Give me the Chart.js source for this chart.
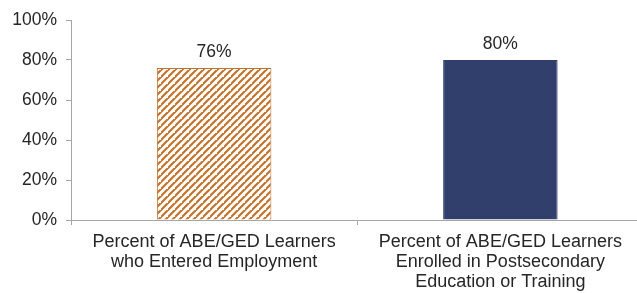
<!DOCTYPE html>
<html>
<head>
<meta charset="utf-8">
<script src="https://cdn.jsdelivr.net/npm/chart.js@4.4.1/dist/chart.umd.min.js"></script>
<style>
  html, body { margin: 0; padding: 0; background: #ffffff; overflow: hidden; }
  #wrap { width: 645px; height: 293px; }
</style>
</head>
<body>
<div id="wrap"><canvas id="c" width="645" height="293"></canvas></div>
<script>
const categories = [
  ["Percent of ABE/GED Learners", "who Entered Employment"],
  ["Percent of ABE/GED Learners", "Enrolled in Postsecondary", "Education or Training"]
];
const values = [76, 80];
const valueLabels = ["76%", "80%"];
const yTicks = [0, 20, 40, 60, 80, 100];

const FONT = "'Liberation Sans', Arial, sans-serif";
const TEXT = '#262626';
const AXIS = '#a6a6a6';
const ORANGE = '#c0722e';
const NAVY = '#313f6d';

function makeHatch() {
  const s = 7;
  const c = document.createElement('canvas');
  c.width = s; c.height = s;
  const g = c.getContext('2d');
  g.fillStyle = '#fffdf8';
  g.fillRect(0, 0, s, s);
  g.strokeStyle = ORANGE;
  g.lineWidth = 2.1;
  g.beginPath();
  g.moveTo(-1, s + 1); g.lineTo(s + 1, -1);
  g.moveTo(-1 - s, s + 1); g.lineTo(1, -1);
  g.moveTo(s - 1, 2 * s + 1); g.lineTo(2 * s + 1, s - 1);
  g.stroke();
  return g.createPattern(c, 'repeat');
}

const ctx = document.getElementById('c').getContext('2d');
const hatch = makeHatch();

const valueLabelPlugin = {
  id: 'valueLabels',
  afterDatasetsDraw(chart) {
    const g = chart.ctx;
    const meta = chart.getDatasetMeta(0);
    g.save();
    g.font = '17.5px ' + FONT;
    g.fillStyle = TEXT;
    g.textAlign = 'center';
    g.textBaseline = 'alphabetic';
    meta.data.forEach((bar, i) => {
      g.fillText(valueLabels[i], bar.x, bar.y - 11);
    });
    g.restore();
  }
};

new Chart(ctx, {
  type: 'bar',
  data: {
    labels: categories,
    datasets: [{
      data: values,
      backgroundColor: [hatch, NAVY],
      borderColor: [ORANGE, NAVY],
      borderWidth: 1,
      barPercentage: 0.4,
      categoryPercentage: 1.0
    }]
  },
  options: {
    responsive: false,
    devicePixelRatio: 1,
    animation: false,
    layout: { padding: { left: 0, right: 1.5, top: 20, bottom: 0 } },
    plugins: { legend: { display: false }, tooltip: { enabled: false } },
    scales: {
      x: {
        afterFit(scale) { scale.height = 73; },
        grid: { offset: true, drawOnChartArea: false, drawTicks: true, tickLength: 5, color: AXIS },
        border: { display: true, color: AXIS, width: 1 },
        ticks: {
          font: { family: FONT, size: 18, lineHeight: 1.12 },
          color: TEXT,
          padding: 7,
          maxRotation: 0,
          autoSkip: false
        }
      },
      y: {
        min: 0,
        max: 100,
        afterFit(scale) { scale.width = 71; },
        afterBuildTicks(scale) { scale.ticks = yTicks.map(v => ({ value: v })); },
        grid: { drawOnChartArea: false, drawTicks: true, tickLength: 5, color: AXIS },
        border: { display: true, color: AXIS, width: 1 },
        ticks: {
          font: { family: FONT, size: 17.5 },
          color: TEXT,
          padding: 9,
          callback: v => v + '%'
        }
      }
    }
  },
  plugins: [valueLabelPlugin]
});
</script>
</body>
</html>
